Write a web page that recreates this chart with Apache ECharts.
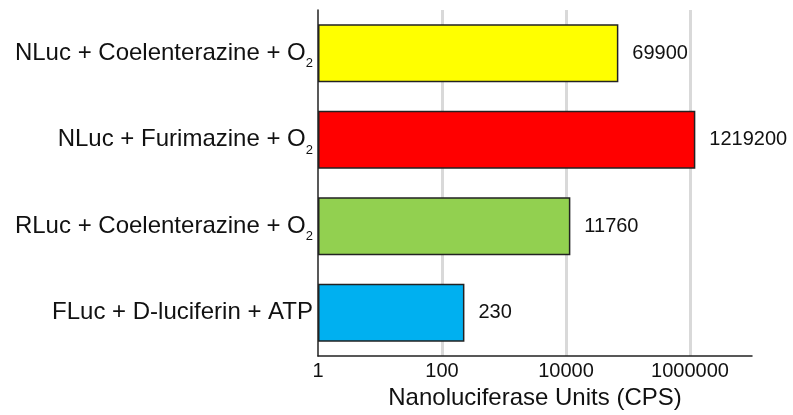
<!DOCTYPE html>
<html>
<head>
<meta charset="utf-8">
<script src="https://cdn.jsdelivr.net/npm/echarts@6/dist/echarts.min.js"></script>
<style>
  html, body { margin: 0; padding: 0; background: #ffffff; }
  #chart { width: 793px; height: 415px; }
</style>
</head>
<body>
<div id="chart"></div>
<script>
// Luciferase / substrate pairs, top to bottom
const categories = [
  'NLuc + Coelenterazine + O2',
  'NLuc + Furimazine + O2',
  'RLuc + Coelenterazine + O2',
  'FLuc + D-luciferin + ATP'
];
// Light output in counts per second
const values = [69900, 1219200, 11760, 230];
const barColors = ['#ffff00', '#ff0000', '#92d050', '#00b0f0'];
const axisTitle = 'Nanoluciferase Units (CPS)';
const axisMin = 1;
const axisMax = 10000000;

const FONT = '"Liberation Sans", Arial, Helvetica, sans-serif';

const chart = echarts.init(document.getElementById('chart'), null, { renderer: 'canvas' });

chart.setOption({
  backgroundColor: '#ffffff',
  animation: false,
  textStyle: { fontFamily: FONT },
  grid: { left: 318, right: 41, top: 10, bottom: 58, containLabel: false },
  xAxis: {
    type: 'log',
    logBase: 10,
    min: axisMin,
    max: axisMax,
    interval: 2,
    name: axisTitle,
    nameLocation: 'middle',
    nameGap: 24,
    nameTextStyle: { fontSize: 24, color: '#111111', fontFamily: FONT },
    axisLine: { show: true, lineStyle: { color: '#222222', width: 1.5 } },
    axisTick: { show: false },
    axisLabel: {
      fontSize: 20,
      color: '#111111',
      margin: 5,
      fontFamily: FONT,
      showMaxLabel: false,
      formatter: v => String(Math.round(v))
    },
    splitLine: {
      show: true,
      showMinLine: false,
      showMaxLine: false,
      lineStyle: { color: '#d9d9d9', width: 3 }
    }
  },
  yAxis: {
    type: 'category',
    inverse: true,
    data: categories,
    axisLine: { show: true, lineStyle: { color: '#222222', width: 1.5 } },
    axisTick: { show: false },
    splitLine: { show: false },
    axisLabel: {
      fontSize: 24,
      lineHeight: 34,
      color: '#111111',
      margin: 5,
      fontFamily: FONT,
      formatter: v => v.replace(/O2$/, 'O{sub|2}'),
      rich: {
        sub: {
          fontSize: 13,
          lineHeight: 13,
          verticalAlign: 'bottom',
          color: '#111111',
          fontFamily: FONT
        }
      }
    }
  },
  series: [{
    type: 'bar',
    barCategoryGap: '33%',
    data: values.map((v, i) => ({ value: v, itemStyle: { color: barColors[i] } })),
    itemStyle: { borderColor: '#222222', borderWidth: 1.5 },
    label: {
      show: true,
      position: 'right',
      distance: 14,
      fontSize: 20,
      color: '#111111',
      fontFamily: FONT,
      formatter: p => String(p.value)
    }
  }]
});
</script>
</body>
</html>
